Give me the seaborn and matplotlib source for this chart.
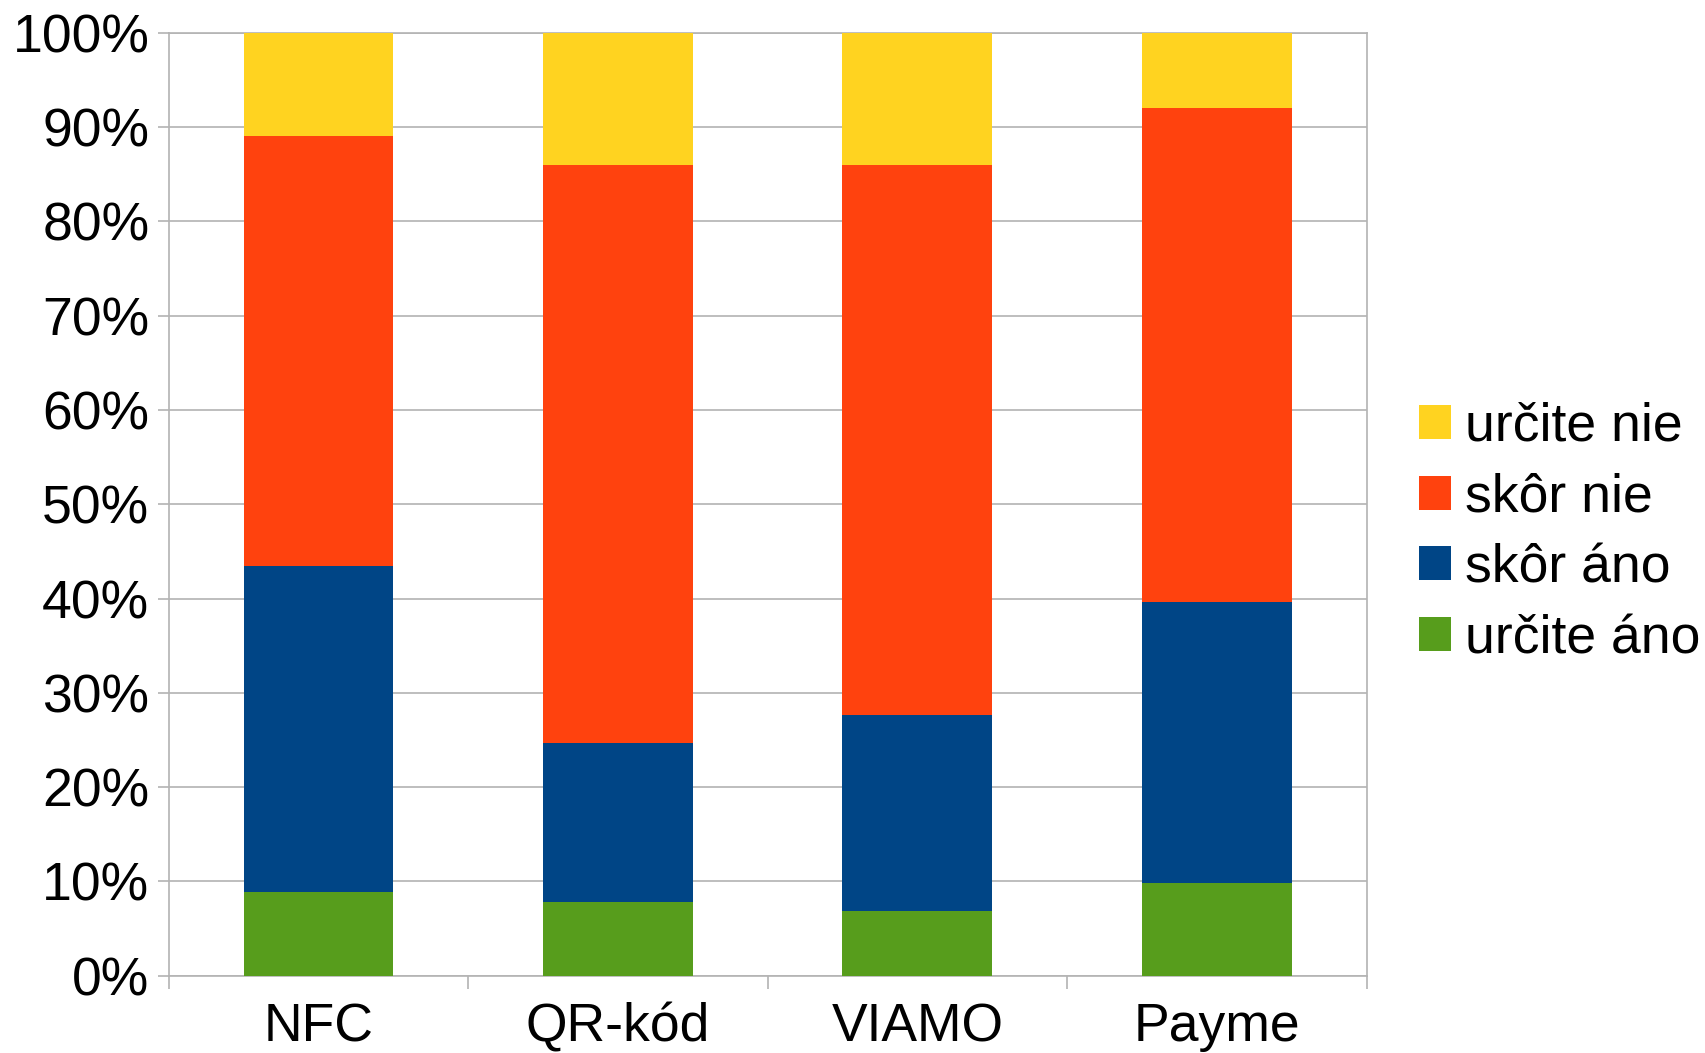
import pandas as pd
import matplotlib
import matplotlib.pyplot as plt
import seaborn as sns
from matplotlib.patches import Patch
from matplotlib.ticker import FixedLocator

matplotlib.use('Agg')

categories = ["NFC", "QR-kód", "VIAMO", "Payme"]
urcite_ano = [8.9, 7.8, 6.9, 9.8]
skor_ano = [34.6, 16.9, 20.8, 29.8]
skor_nie = [45.5, 61.3, 58.3, 52.4]
urcite_nie = [11.0, 14.0, 14.0, 8.0]

series_names = ["určite áno", "skôr áno", "skôr nie", "určite nie"]
colors = ["#579D1C", "#004586", "#FF420E", "#FFD320"]

sns.set_theme(style="white")
plt.rcParams['font.family'] = ['Liberation Sans', 'DejaVu Sans']
plt.rcParams['text.color'] = 'black'

df = pd.DataFrame({
    "kategoria": categories,
    "určite áno": urcite_ano,
    "skôr áno": skor_ano,
    "skôr nie": skor_nie,
    "určite nie": urcite_nie,
})
# cumulative sums so the stacked bars can be drawn from the top down
cum = df[series_names].cumsum(axis=1)

fig, ax = plt.subplots(figsize=(17.06, 10.53), dpi=100)
fig.subplots_adjust(left=0.0989, right=0.801, top=0.969, bottom=0.0733)

for name, color in zip(reversed(series_names), reversed(colors)):
    sns.barplot(x=df["kategoria"], y=cum[name], color=color, width=0.5,
                saturation=1, ax=ax, zorder=3, linewidth=0)

grid_c = "#B3B3B3"
fs = 38.5
ax.set_xlim(-0.5, 3.5)
ax.set_ylim(0, 100)
ax.set_yticks(range(0, 101, 10))
ax.set_yticklabels([f"{v}%" for v in range(0, 101, 10)])
ax.yaxis.grid(True, color=grid_c, linewidth=1.2, zorder=0)
ax.set_axisbelow(True)
ax.set_xlabel("")
ax.set_ylabel("")

ax.tick_params(axis="y", labelsize=fs, length=8, width=1.2, color=grid_c, pad=6, left=True)
ax.tick_params(axis="x", which="major", labelsize=fs, length=0, pad=19)
ax.xaxis.set_minor_locator(FixedLocator([-0.5, 0.5, 1.5, 2.5, 3.5]))
ax.tick_params(axis="x", which="minor", length=9, width=1.2, color=grid_c, bottom=True)
for lab in ax.get_xticklabels() + ax.get_yticklabels():
    lab.set_color("black")

for sp in ax.spines.values():
    sp.set_color(grid_c)
    sp.set_linewidth(1.2)

handles = [Patch(facecolor=c, edgecolor="none") for c in reversed(colors)]
leg = fig.legend(handles, list(reversed(series_names)), loc="center left",
                 bbox_to_anchor=(0.832, 0.494), frameon=False, fontsize=fs,
                 handlelength=0.6, handleheight=0.6, handletextpad=0.25,
                 labelspacing=0.39, borderaxespad=0, borderpad=0)
for t in leg.get_texts():
    t.set_color("black")

plt.savefig("out.png", dpi=100)
plt.close()
